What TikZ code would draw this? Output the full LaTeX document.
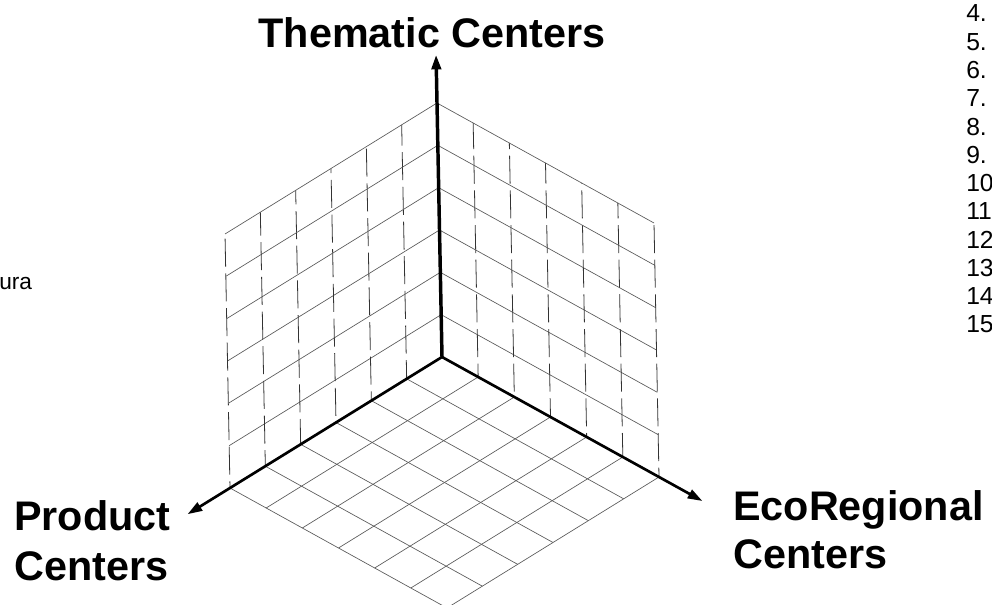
\documentclass[tikz,border=0pt]{standalone}
\usepackage{fontspec}
\setmainfont{Liberation Sans}
\usetikzlibrary{calc, arrows.meta}

\begin{document}
\begin{tikzpicture}[x=0.75pt, y=-0.75pt,
    axis/.style={line width=2pt, -{Triangle[length=11pt, width=7pt]}},
    gridline/.style={black!65, line width=0.5pt},
    postline/.style={black!80, line width=0.6pt, dash pattern=on 21pt off 5pt},
    bigtitle/.style={font=\fontsize{31}{37}\selectfont\bfseries, inner sep=0pt},
    listnum/.style={font=\fontsize{18.5}{22}\selectfont, inner sep=0pt, anchor=base west}]
  \clip (0,0) rectangle (992,605);
  \coordinate (O) at (442,357);
  \coordinate (A) at (230,488);
  \coordinate (B) at (659,477);
  \coordinate (T) at (437,103);
  \coordinate (Atip) at ($(O)!1.2!(A)$);
  \coordinate (Btip) at ($(O)!1.2!(B)$);
  \coordinate (Ttip) at ($(O)!1.19!(T)$);
  % floor
  \foreach \i in {1,...,6} {
    \draw[gridline] ($(O)!\i/6!(A)$) -- ++($(B)-(O)$);
    \draw[gridline] ($(O)!\i/6!(B)$) -- ++($(A)-(O)$);
  }
  % walls
  \foreach \i in {1,...,6} {
    \draw[gridline] ($(O)!\i/6!(T)$) -- ++($(A)-(O)$);
    \draw[gridline] ($(O)!\i/6!(T)$) -- ++($(B)-(O)$);
    \draw[postline, dash phase=\i*7pt] ($(O)!\i/6!(A)$) -- ++($(T)-(O)$);
    \draw[postline, dash phase=\i*11pt] ($(O)!\i/6!(B)$) -- ++($(T)-(O)$);
  }
  % axes
  \draw[axis, line width=2.6pt] (O) -- (Ttip);
  \draw[axis] (O) -- (Atip);
  \draw[axis] (O) -- (Btip);
  % labels
  \node[bigtitle, anchor=base] (thematic) at (432,48) {Thematic Centers};
  \node[bigtitle, anchor=base west] (product) at (14,530) {Product};
  \node[bigtitle, anchor=base west] (productc) at (14,580) {Centers};
  \node[bigtitle, anchor=base west] (eco) at (733,520) {EcoRegional};
  \node[bigtitle, anchor=base west] (ecoc) at (733,568) {Centers};
  \node[listnum, font=\fontsize{17}{20}\selectfont] (ura) at (-1,290) {ura};
  \foreach \n [count=\k from 0] in {4,...,15}
    \node[listnum] (num\n) at (966,{22+\k*28.27}) {\n.};
\end{tikzpicture}
\end{document}
